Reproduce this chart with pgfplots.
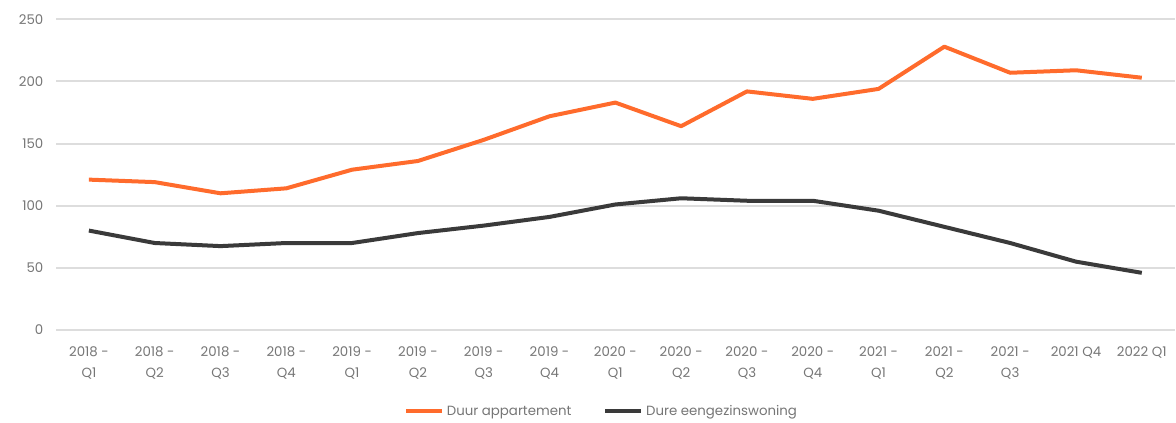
\documentclass[border=0pt]{standalone}
\usepackage{pgfplots}
\pgfplotsset{compat=1.18}
\usepackage{fontspec}
\setmainfont{Poppins}
\definecolor{orangeline}{HTML}{FF6B2C}
\definecolor{darkline}{HTML}{3A3A3A}
\definecolor{gridc}{HTML}{DDDDDD}
\definecolor{textc}{HTML}{767676}
\begin{document}
\begin{tikzpicture}
\useasboundingbox (0pt,0pt) rectangle (882pt,317.25pt);
\begin{axis}[
  at={(42pt,69.75pt)}, anchor=south west,
  scale only axis, width=839pt, height=233pt,
  xmin=-0.5, xmax=16.5, ymin=0, ymax=250,
  axis line style={draw=none},
  tick style={draw=none},
  ytick={0,50,...,250},
  ymajorgrids, grid style={gridc, line width=1.5pt},
  xtick={0,...,16},
  xticklabels={{2018 -\\Q1},{2018 -\\Q2},{2018 -\\Q3},{2018 -\\Q4},{2019 -\\Q1},{2019 -\\Q2},{2019 -\\Q3},{2019 -\\Q4},{2020 -\\Q1},{2020 -\\Q2},{2020 -\\Q3},{2020 -\\Q4},{2021 -\\Q1},{2021 -\\Q2},{2021 -\\Q3},{2021 Q4},{2022 Q1}},
  xticklabel style={align=center, font=\fontsize{10}{16}\selectfont, text=textc, yshift=-9pt},
  yticklabel style={font=\fontsize{10}{12}\selectfont, text=textc, xshift=-6pt},
  /pgf/number format/assume math mode=true,
  legend style={at={(0.488,-0.262)}, anchor=center, draw=none, legend columns=2, font=\fontsize{10}{12}\selectfont, text=textc, /tikz/every even column/.append style={column sep=22pt}},
  legend image code/.code={\draw[#1, line width=3pt] (0pt,0pt) -- (27pt,0pt);},
]
\addplot[orangeline, line width=3pt, line join=round] coordinates {
(0,121)(1,119)(2,110)(3,114)(4,129)(5,136)(6,153)(7,172)(8,183)(9,164)(10,192)(11,186)(12,194)(13,228)(14,207)(15,209)(16,203)};
\addlegendentry{Duur appartement}
\addplot[darkline, line width=3pt, line join=round] coordinates {
(0,80)(1,70)(2,67.5)(3,70)(4,70)(5,78)(6,84)(7,91)(8,101)(9,106)(10,104)(11,104)(12,96)(13,83)(14,70)(15,55)(16,46)};
\addlegendentry{Dure eengezinswoning}
\end{axis}
\end{tikzpicture}
\end{document}
